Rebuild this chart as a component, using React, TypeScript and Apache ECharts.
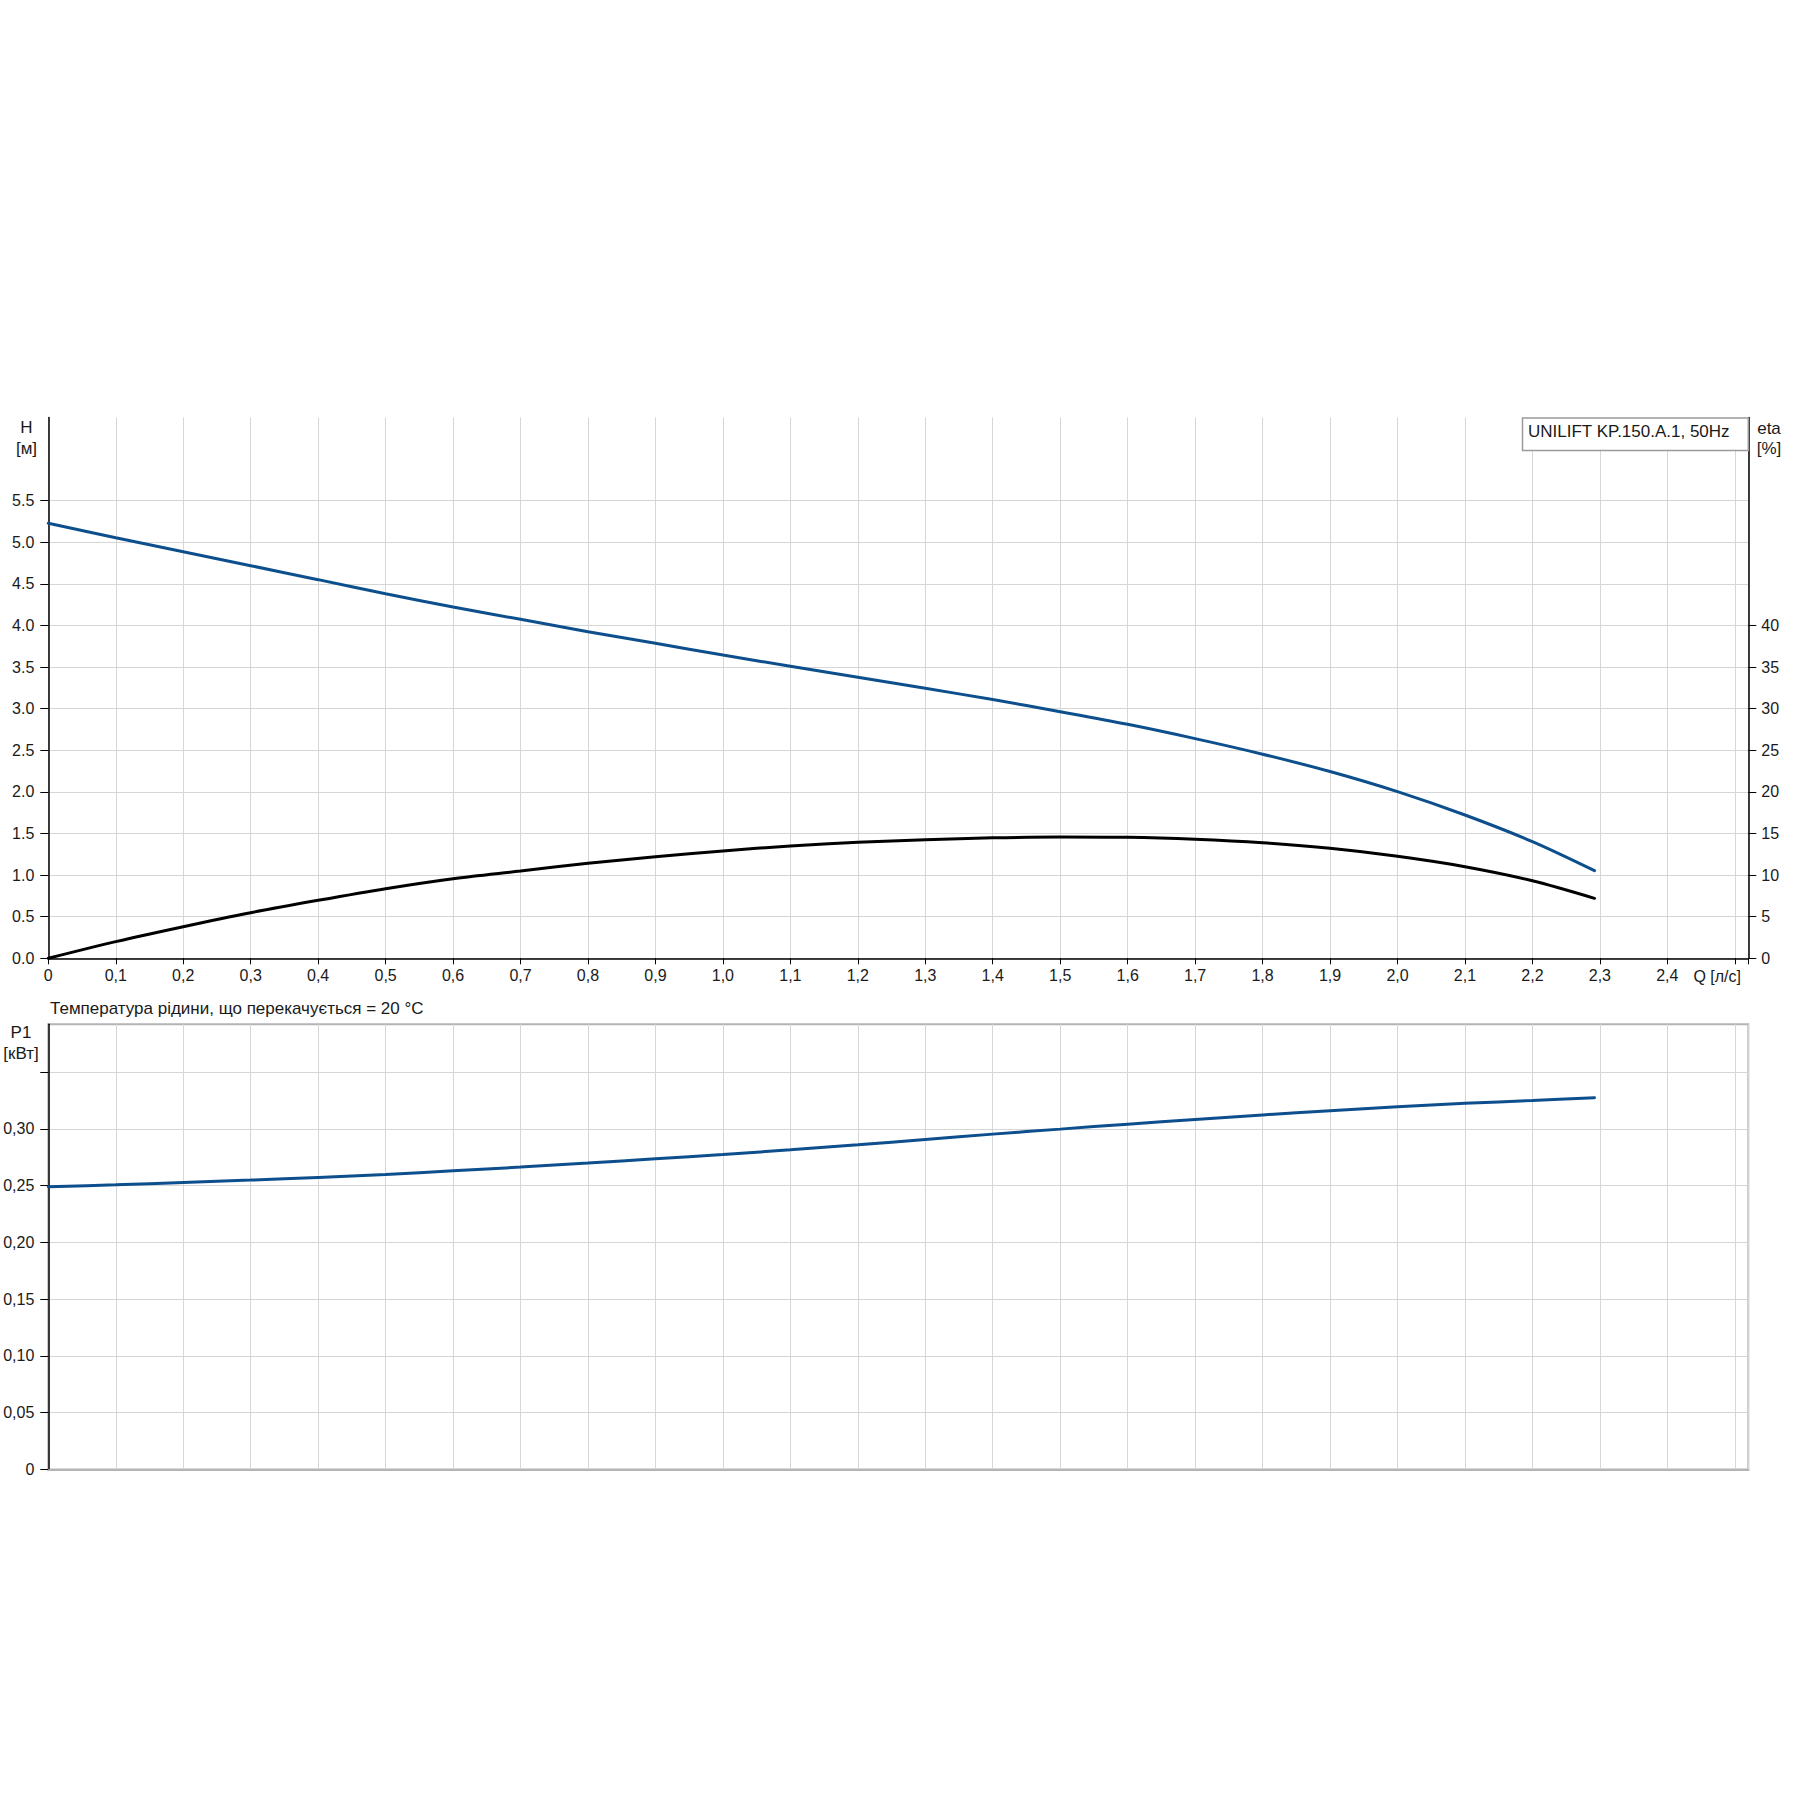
import React, { useEffect, useRef } from "react";
import * as echarts from "echarts";

const flowQ = [0, 0.1, 0.2, 0.3, 0.4, 0.5, 0.6, 0.7, 0.8, 0.9, 1.0, 1.1, 1.2, 1.3, 1.4, 1.5, 1.6, 1.7, 1.8, 1.9, 2.0, 2.1, 2.2, 2.292];
const headH = [5.228, 5.055, 4.887, 4.719, 4.551, 4.382, 4.222, 4.074, 3.926, 3.786, 3.645, 3.51, 3.377, 3.245, 3.11, 2.964, 2.812, 2.64, 2.453, 2.245, 2.003, 1.722, 1.402, 1.053];
const effEta = [0, 2.0, 3.8, 5.48, 6.97, 8.37, 9.57, 10.49, 11.42, 12.21, 12.9, 13.5, 13.94, 14.26, 14.48, 14.58, 14.54, 14.3, 13.88, 13.22, 12.26, 11.01, 9.32, 7.21];
const powerP1 = [0.2489, 0.2507, 0.2527, 0.2548, 0.2571, 0.2597, 0.263, 0.2663, 0.2698, 0.2736, 0.2774, 0.2815, 0.2859, 0.2906, 0.2953, 0.2997, 0.3041, 0.3082, 0.3122, 0.3159, 0.3193, 0.3224, 0.3249, 0.3273];

const hTicks = [0, 0.5, 1, 1.5, 2, 2.5, 3, 3.5, 4, 4.5, 5, 5.5];
const etaTicks = [0, 5, 10, 15, 20, 25, 30, 35, 40];
const p1Ticks = [0, 0.05, 0.1, 0.15, 0.2, 0.25, 0.3, 0.35];
const p1Labels = [0, 0.05, 0.1, 0.15, 0.2, 0.25, 0.3];

const titleText = "UNILIFT KP.150.A.1, 50Hz";
const tempText = "Температура рідини, що перекачується = 20 °C";

const FONT = "'Liberation Sans', Arial, sans-serif";
const TXT = "#1a1a1a";
const GRID = "#d6d6d6";
const BLUE = "#0d4f8d";

export default function App() {
  const ref = useRef<HTMLDivElement>(null);
  useEffect(() => {
    if (!ref.current) return;
    const chart = echarts.init(ref.current, undefined, { renderer: "svg" });
    const pair = (ys: number[]) => flowQ.map((q, i) => [q, ys[i]]);
    const xLabel = (v: number) => {
      if (Math.abs(v) < 1e-9) return "0";
      if (v > 2.45) return "";
      return v.toFixed(1).replace(".", ",");
    };
    const splitLine = { show: true, lineStyle: { color: GRID, width: 1 } };
    const lineCommon = { type: "line", smooth: 0.3, showSymbol: false, z: 5 };
    const option: any = {
      animation: false,
      backgroundColor: "#fff",
      textStyle: { fontFamily: FONT },
      grid: [
        { left: 48.3, right: 46.7, top: 417.5, height: 540.8, show: false },
        { left: 48.3, right: 46.7, top: 1024.3, bottom: 325.5, show: true, borderColor: "#b4b4b4", borderWidth: 2, backgroundColor: "transparent" },
      ],
      xAxis: [
        {
          type: "value", gridIndex: 0, min: 0, max: 2.52, interval: 0.1,
          axisLine: { show: true, onZero: false, lineStyle: { color: "#000", width: 1.5 } },
          axisTick: { show: true, length: 6, lineStyle: { color: "#000" } },
          axisLabel: { show: true, formatter: xLabel, color: TXT, fontSize: 16, fontFamily: FONT, margin: 9 },
          splitLine,
        },
        {
          type: "value", gridIndex: 1, min: 0, max: 2.52, interval: 0.1,
          axisLine: { show: true, onZero: false, lineStyle: { color: "#b4b4b4", width: 2 } },
          axisTick: { show: false },
          axisLabel: { show: false },
          splitLine,
        },
      ],
      yAxis: [
        {
          type: "value", gridIndex: 0, min: 0, max: 6.5, interval: 0.5, position: "left",
          axisLine: { show: true, onZero: false, lineStyle: { color: "#000", width: 1.5 } },
          axisTick: { show: true, length: 8, customValues: hTicks, lineStyle: { color: "#000" } },
          axisLabel: { show: true, customValues: hTicks, formatter: (v: number) => v.toFixed(1), color: TXT, fontSize: 16, fontFamily: FONT, margin: 14 },
          splitLine,
        },
        {
          type: "value", gridIndex: 0, min: 0, max: 65, interval: 5, position: "right",
          axisLine: { show: true, onZero: false, lineStyle: { color: "#000", width: 1.5 } },
          axisTick: { show: true, length: 8, customValues: etaTicks, lineStyle: { color: "#000" } },
          axisLabel: { show: true, customValues: etaTicks, formatter: (v: number) => String(v), color: TXT, fontSize: 16, fontFamily: FONT, margin: 13 },
          splitLine: { show: false },
        },
        {
          type: "value", gridIndex: 1, min: 0, max: 0.392, interval: 0.05, position: "left",
          axisLine: { show: true, onZero: false, lineStyle: { color: "#000", width: 1.5 } },
          axisTick: { show: true, length: 8, customValues: p1Ticks, lineStyle: { color: "#000" } },
          axisLabel: { show: true, customValues: p1Labels, formatter: (v: number) => (Math.abs(v) < 1e-9 ? "0" : v.toFixed(2).replace(".", ",")), color: TXT, fontSize: 16, fontFamily: FONT, margin: 14 },
          splitLine,
        },
      ],
      series: [
        { ...lineCommon, xAxisIndex: 0, yAxisIndex: 0, data: pair(headH), lineStyle: { color: BLUE, width: 3, cap: "round" } },
        { ...lineCommon, xAxisIndex: 0, yAxisIndex: 1, data: pair(effEta), lineStyle: { color: "#000", width: 3, cap: "round" } },
        { ...lineCommon, xAxisIndex: 1, yAxisIndex: 2, data: pair(powerP1), lineStyle: { color: BLUE, width: 3, cap: "round" } },
      ],
      graphic: [
        { type: "text", x: 26.5, y: 427, style: { text: "H", fill: TXT, font: `17px ${FONT}`, textAlign: "center", textVerticalAlign: "middle" } },
        { type: "text", x: 26.5, y: 448, style: { text: "[м]", fill: TXT, font: `17px ${FONT}`, textAlign: "center", textVerticalAlign: "middle" } },
        { type: "text", x: 1769, y: 428, style: { text: "eta", fill: TXT, font: `17px ${FONT}`, textAlign: "center", textVerticalAlign: "middle" } },
        { type: "text", x: 1769, y: 448, style: { text: "[%]", fill: TXT, font: `17px ${FONT}`, textAlign: "center", textVerticalAlign: "middle" } },
        { type: "rect", shape: { x: 1522.5, y: 418, width: 225.8, height: 32.5 }, style: { fill: "#fff", stroke: "#9a9a9a", lineWidth: 1.5 }, z: 10 },
        { type: "text", x: 1528, y: 431, z: 11, style: { text: titleText, fill: TXT, font: `17px ${FONT}`, textAlign: "left", textVerticalAlign: "middle" } },
        { type: "text", x: 1741, y: 976, style: { text: "Q [л/с]", fill: TXT, font: `16px ${FONT}`, textAlign: "right", textVerticalAlign: "middle" } },
        { type: "text", x: 50, y: 1008.5, style: { text: tempText, fill: TXT, font: `17px ${FONT}`, textAlign: "left", textVerticalAlign: "middle" } },
        { type: "text", x: 21, y: 1032.5, style: { text: "P1", fill: TXT, font: `17px ${FONT}`, textAlign: "center", textVerticalAlign: "middle" } },
        { type: "text", x: 21, y: 1053, style: { text: "[кВт]", fill: TXT, font: `17px ${FONT}`, textAlign: "center", textVerticalAlign: "middle" } },
      ],
    };
    chart.setOption(option);
    return () => chart.dispose();
  }, []);
  return <div ref={ref} style={{ position: "absolute", left: 0, top: 0, width: 1795, height: 1795 }} />;
}
